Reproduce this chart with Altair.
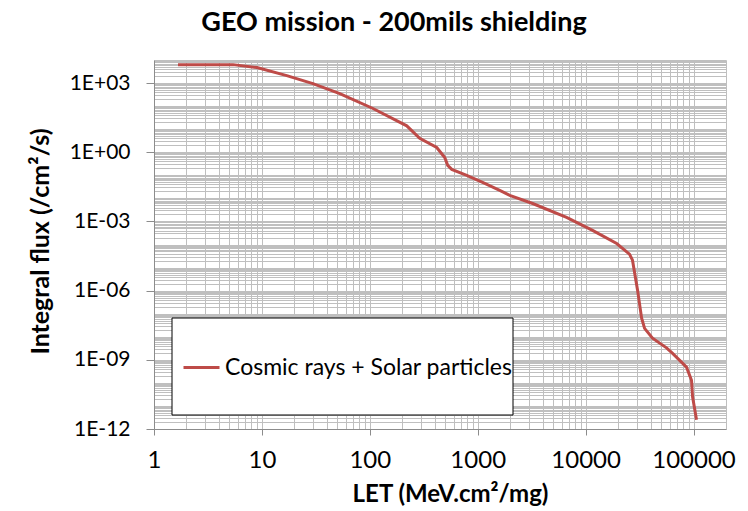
import altair as alt
import pandas as pd

# Integral LET spectrum, GEO orbit behind 200 mils of shielding
let_values = [1.67, 5.4, 9.0, 17, 29.7, 52.7, 107, 220, 290, 417, 495, 527, 575,
              791, 1110, 1600, 1980, 3230, 6660, 11600, 19400, 25500, 27200,
              30300, 33000, 35200, 41700, 56200, 64000, 86100, 95800, 98000, 106600]
flux_values = [6300, 6300, 4700, 2100, 950, 350, 79, 14, 4.0, 1.6, 0.59, 0.27, 0.18,
               0.10, 0.049, 0.022, 0.0135, 0.006, 0.0015, 4.1e-4, 1.1e-4, 3.8e-5, 2.1e-5,
               1.05e-6, 6.5e-8, 2.3e-8, 8.7e-9, 3.3e-9, 1.9e-9, 4.8e-10, 1.3e-10, 2.5e-11, 2.5e-12]
series_name = "Cosmic rays + Solar particles"

# Log gridline positions (1..9 x 10^k)
x_grid = [m * 10 ** k for k in range(0, 5) for m in range(1, 10)] + [100000, 200000]
y_grid = [m * 10.0 ** k for k in range(-12, 4) for m in range(1, 10)] + [1e4]

FONT = "Lato"
RED = "#be4b48"
GRID = "#bfbfbf"
AXIS = "#8c8c8c"

df = pd.DataFrame({"let": let_values, "flux": flux_values, "series": series_name})

x_major = "abs(log(datum.value)/LN10 - round(log(datum.value)/LN10)) < 0.001"
y_major = "abs(log(datum.value)/LN10/3 - round(log(datum.value)/LN10/3)) < 0.001"

x_axis = alt.Axis(
    values=x_grid,
    grid=True, gridColor=GRID, gridWidth=1,
    domainColor=AXIS, tickColor=AXIS, tickSize=6,
    tickOpacity={"condition": {"test": x_major, "value": 1}, "value": 0},
    labelExpr=f"{x_major} ? format(datum.value, 'd') : ''",
    labelFont=FONT, labelFontSize=24, labelColor="black",
    labelBaseline="alphabetic", labelPadding=32, labelOverlap=False, labelFlush=False,
    title="LET (MeV.cm²/mg)", titleFont=FONT, titleFontSize=24, titleFontWeight="bold",
    titleColor="black", titleX=296, titleY=72, titleBaseline="alphabetic", titleAlign="center",
)

y_axis = alt.Axis(
    values=y_grid,
    grid=True, gridColor=GRID, gridWidth=1,
    domainColor=AXIS, tickColor=AXIS, tickSize=8,
    tickOpacity={"condition": {"test": y_major, "value": 1}, "value": 0},
    labelExpr=(f"{y_major} ? '1E' + (datum.value >= 1 ? '+' : '-') + "
               "pad(toString(abs(round(log(datum.value)/LN10))), 2, '0', 'left') : ''"),
    labelFont=FONT, labelFontSize=21, labelColor="black",
    labelPadding=16, labelOverlap=False, labelFlush=False,
    title="Integral flux (/cm²/s)", titleFont=FONT, titleFontSize=25, titleFontWeight="bold",
    titleColor="black", titleAngle=270, titleX=-106, titleY=181,
    titleBaseline="alphabetic", titleAlign="center",
)

x_enc = alt.X("let:Q", scale=alt.Scale(type="log", domain=[1, 200000], nice=False), axis=x_axis)
y_enc = alt.Y("flux:Q", scale=alt.Scale(type="log", domain=[1e-12, 1e4], nice=False), axis=y_axis)

# White legend frame with black border
legend_box = alt.Chart(pd.DataFrame({"k": [0]})).mark_rect(
    fill="white", stroke="black", strokeWidth=1
).encode(x=alt.value(18), x2=alt.value(359), y=alt.value(258), y2=alt.value(355))

curve = alt.Chart(df).mark_line(strokeWidth=3, clip=True).encode(
    x=x_enc,
    y=y_enc,
    color=alt.Color(
        "series:N",
        scale=alt.Scale(range=[RED]),
        legend=alt.Legend(
            orient="none", legendX=28, legendY=288, title=None,
            symbolType="stroke", symbolSize=1296, symbolStrokeWidth=3,
            labelFont=FONT, labelFontSize=23, labelColor="black",
            labelOffset=4, labelLimit=0, padding=0,
        ),
    ),
)

chart = alt.layer(legend_box, curve).properties(
    width=572,
    height=369,
    autosize=alt.AutoSizeParams(type="none"),
    padding={"left": 154, "top": 60, "right": 22, "bottom": 82},
    background="white",
    title=alt.TitleParams(
        "GEO mission - 200mils shielding",
        font=FONT, fontSize=27, fontWeight="bold", color="black",
        anchor="middle", dx=-46, baseline="alphabetic", offset=-9,
    ),
).configure_view(stroke=None)

chart.save("out.html", embed_options={"renderer": "svg", "actions": False})
